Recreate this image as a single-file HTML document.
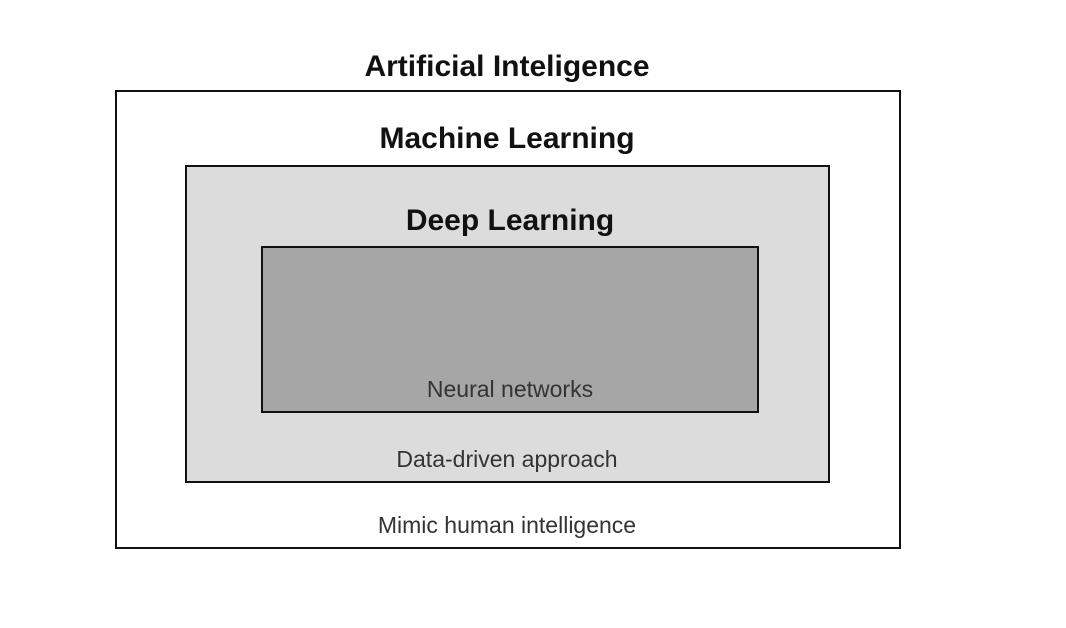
<!DOCTYPE html>
<html><head><style>
body{margin:0;width:1066px;height:628px;background:#fff;position:relative;overflow:hidden;font-family:"Liberation Sans",sans-serif}
.b{position:absolute;box-sizing:border-box;border:2px solid #111}
.t{position:absolute;left:0;width:1014px;text-align:center;white-space:nowrap}
.h{font-weight:bold;font-size:30px;color:#111}
.l{font-size:23px;color:#333}
</style></head><body>
<div class="b" style="left:115px;top:90px;width:786px;height:459px;background:#fff"></div>
<div class="b" style="left:185px;top:165px;width:645px;height:318px;background:#dcdcdc"></div>
<div class="b" style="left:261px;top:246px;width:498px;height:167px;background:#a6a6a6"></div>
<div class="t h" style="top:50px">Artificial Inteligence</div>
<div class="t h" style="top:122px">Machine Learning</div>
<div class="t h" style="top:204px;left:3px">Deep Learning</div>
<div class="t l" style="top:376px;left:3px">Neural networks</div>
<div class="t l" style="top:446px">Data-driven approach</div>
<div class="t l" style="top:512px">Mimic human intelligence</div>
</body></html>
